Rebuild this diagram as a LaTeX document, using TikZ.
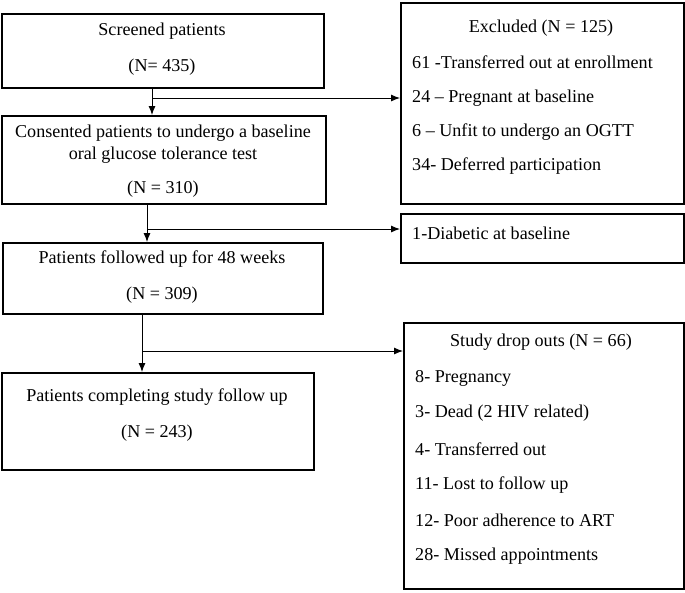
\documentclass[tikz,border=0pt]{standalone}
\usepackage{fontspec}
\setmainfont{Liberation Serif}
\usetikzlibrary{arrows.meta}
\begin{document}
\begin{tikzpicture}[x=1pt,y=-1pt,
  box/.style={draw, line width=1.6pt, inner sep=0pt, anchor=north west},
  txt/.style={font=\fontsize{18.1}{21}\selectfont, inner sep=0pt},
  ltxt/.style={txt, anchor=west},
  arr/.style={line width=0.9pt, -{Latex[length=9pt,width=7pt]}}]
\useasboundingbox (0,0) rectangle (685,592);
% left column boxes
\node[box, minimum width=322pt, minimum height=74pt] (b1) at (1,13) {};
\node[txt] (t1a) at (162,31) {Screened patients};
\node[txt] (t1b) at (162,67) {(N= 435)};
\node[box, minimum width=324pt, minimum height=88pt] (b2) at (1,115) {};
\node[txt] (t2a) at (163,133) {Consented patients to undergo a baseline};
\node[txt] (t2b) at (163,155) {oral glucose tolerance test};
\node[txt] (t2c) at (163,189) {(N = 310)};
\node[box, minimum width=320pt, minimum height=71pt] (b3) at (2,242) {};
\node[txt] (t3a) at (162,259) {Patients followed up for 48 weeks};
\node[txt] (t3b) at (162,295) {(N = 309)};
\node[box, minimum width=312pt, minimum height=97pt] (b4) at (1,372) {};
\node[txt] (t4a) at (157,397) {Patients completing study follow up};
\node[txt] (t4b) at (157,433) {(N = 243)};
% right column boxes
\node[box, minimum width=283pt, minimum height=201pt] (ex) at (400,2) {};
\node[txt] (e0) at (541,28) {Excluded (N = 125)};
\node[ltxt] (e1) at (412,62) {61 -Transferred out at enrollment};
\node[ltxt] (e2) at (412,98) {24 -- Pregnant at baseline};
\node[ltxt] (e3) at (412,132) {6 -- Unfit to undergo an OGTT};
\node[ltxt] (e4) at (412,166) {34- Deferred participation};
\node[box, minimum width=283pt, minimum height=49pt] (db) at (400,213) {};
\node[ltxt] (d1) at (412,233) {1-Diabetic at baseline};
\node[box, minimum width=280pt, minimum height=266pt] (dr) at (403,322) {};
\node[txt] (r0) at (541,342) {Study drop outs (N = 66)};
\node[ltxt] (r1) at (415,378) {8- Pregnancy};
\node[ltxt] (r2) at (415,413) {3- Dead (2 HIV related)};
\node[ltxt] (r3) at (415,449) {4- Transferred out};
\node[ltxt] (r4) at (415,485) {11- Lost to follow up};
\node[ltxt] (r5) at (415,520) {12- Poor adherence to ART};
\node[ltxt] (r6) at (415,556) {28- Missed appointments};
% connectors
\coordinate (j1) at (152,98);
\coordinate (j2) at (147,229);
\coordinate (j3) at (142,351);
\draw[arr] (b1.south -| j1) -- (b2.north -| j1);
\draw[arr] (j1) -- (ex.west |- j1);
\draw[arr] (b2.south -| j2) -- (b3.north -| j2);
\draw[arr] (j2) -- (db.west |- j2);
\draw[arr] (b3.south -| j3) -- (b4.north -| j3);
\draw[arr] (j3) -- (dr.west |- j3);
\end{tikzpicture}
\end{document}
